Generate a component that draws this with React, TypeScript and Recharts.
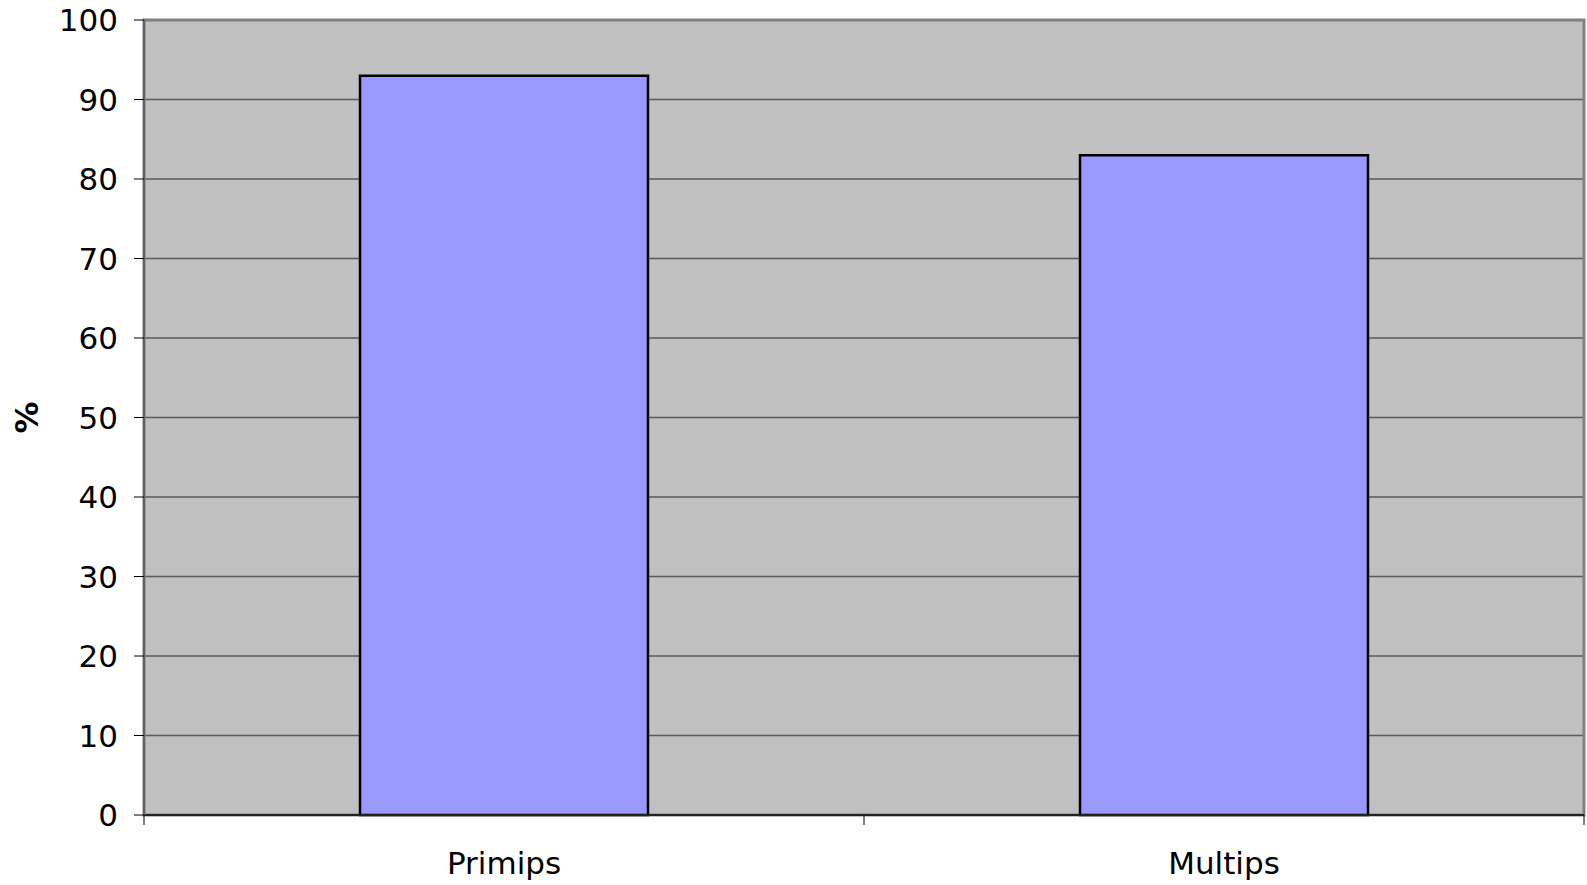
import { BarChart, Bar, XAxis, YAxis, CartesianGrid, ReferenceArea } from "recharts";

const groups = ["Primips", "Multips"];
const percents = [93, 83];
const yTicks = [0, 10, 20, 30, 40, 50, 60, 70, 80, 90, 100];
const edgeTicks = [0, 1, 2];

const rows = groups.map((g, i) => ({ group: g, pct: percents[i], edge: i + 0.5 }));

const font = "'DejaVu Sans', Verdana, sans-serif";

export default function App() {
  return (
    <div style={{ position: "absolute", left: 0, top: 0, background: "#fff" }}>
      <BarChart
        width={1587}
        height={885}
        data={rows}
        margin={{ top: 20, right: 3, left: 0, bottom: 0 }}
        barCategoryGap="30%"
      >
        <CartesianGrid
          xAxisId="cat"
          vertical={false}
          fill="#c0c0c0"
          stroke="#5a5a5a"
          strokeWidth={1.5}
          fillOpacity={1}
        />
        <ReferenceArea xAxisId="cat" y1={0} y2={100} fill="none" stroke="#808080" strokeWidth={3} ifOverflow="visible" />
        {/* edge axis: only the boundary tick marks and the dark base line */}
        <XAxis
          xAxisId={0}
          type="number"
          dataKey="edge"
          domain={[0, 2]}
          ticks={edgeTicks}
          height={1}
          tick={() => <g />}
          tickSize={10}
          tickLine={{ stroke: "#000", strokeWidth: 1 }}
          axisLine={{ stroke: "#222", strokeWidth: 2 }}
        />
        <XAxis
          xAxisId="cat"
          dataKey="group"
          height={69}
          tickLine={false}
          axisLine={false}
          tickSize={0}
          tickMargin={36}
          tick={{ fill: "#000", fontSize: 31, fontFamily: font }}
        />
        <YAxis
          width={144}
          domain={[0, 100]}
          ticks={yTicks}
          interval={0}
          tickSize={10}
          tickMargin={16}
          tickLine={{ stroke: "#000", strokeWidth: 1 }}
          axisLine={{ stroke: "#606060", strokeWidth: 2 }}
          tick={{ fill: "#000", fontSize: 31, fontFamily: font }}
          label={{
            value: "%",
            angle: -90,
            position: "insideLeft",
            offset: 27,
            style: { textAnchor: "middle", fontWeight: "bold", fontSize: 32, fontFamily: font, fill: "#000" },
          }}
        />
        <Bar xAxisId="cat" dataKey="pct" fill="#9999ff" stroke="#000" strokeWidth={2.5} isAnimationActive={false} />
      </BarChart>
    </div>
  );
}
